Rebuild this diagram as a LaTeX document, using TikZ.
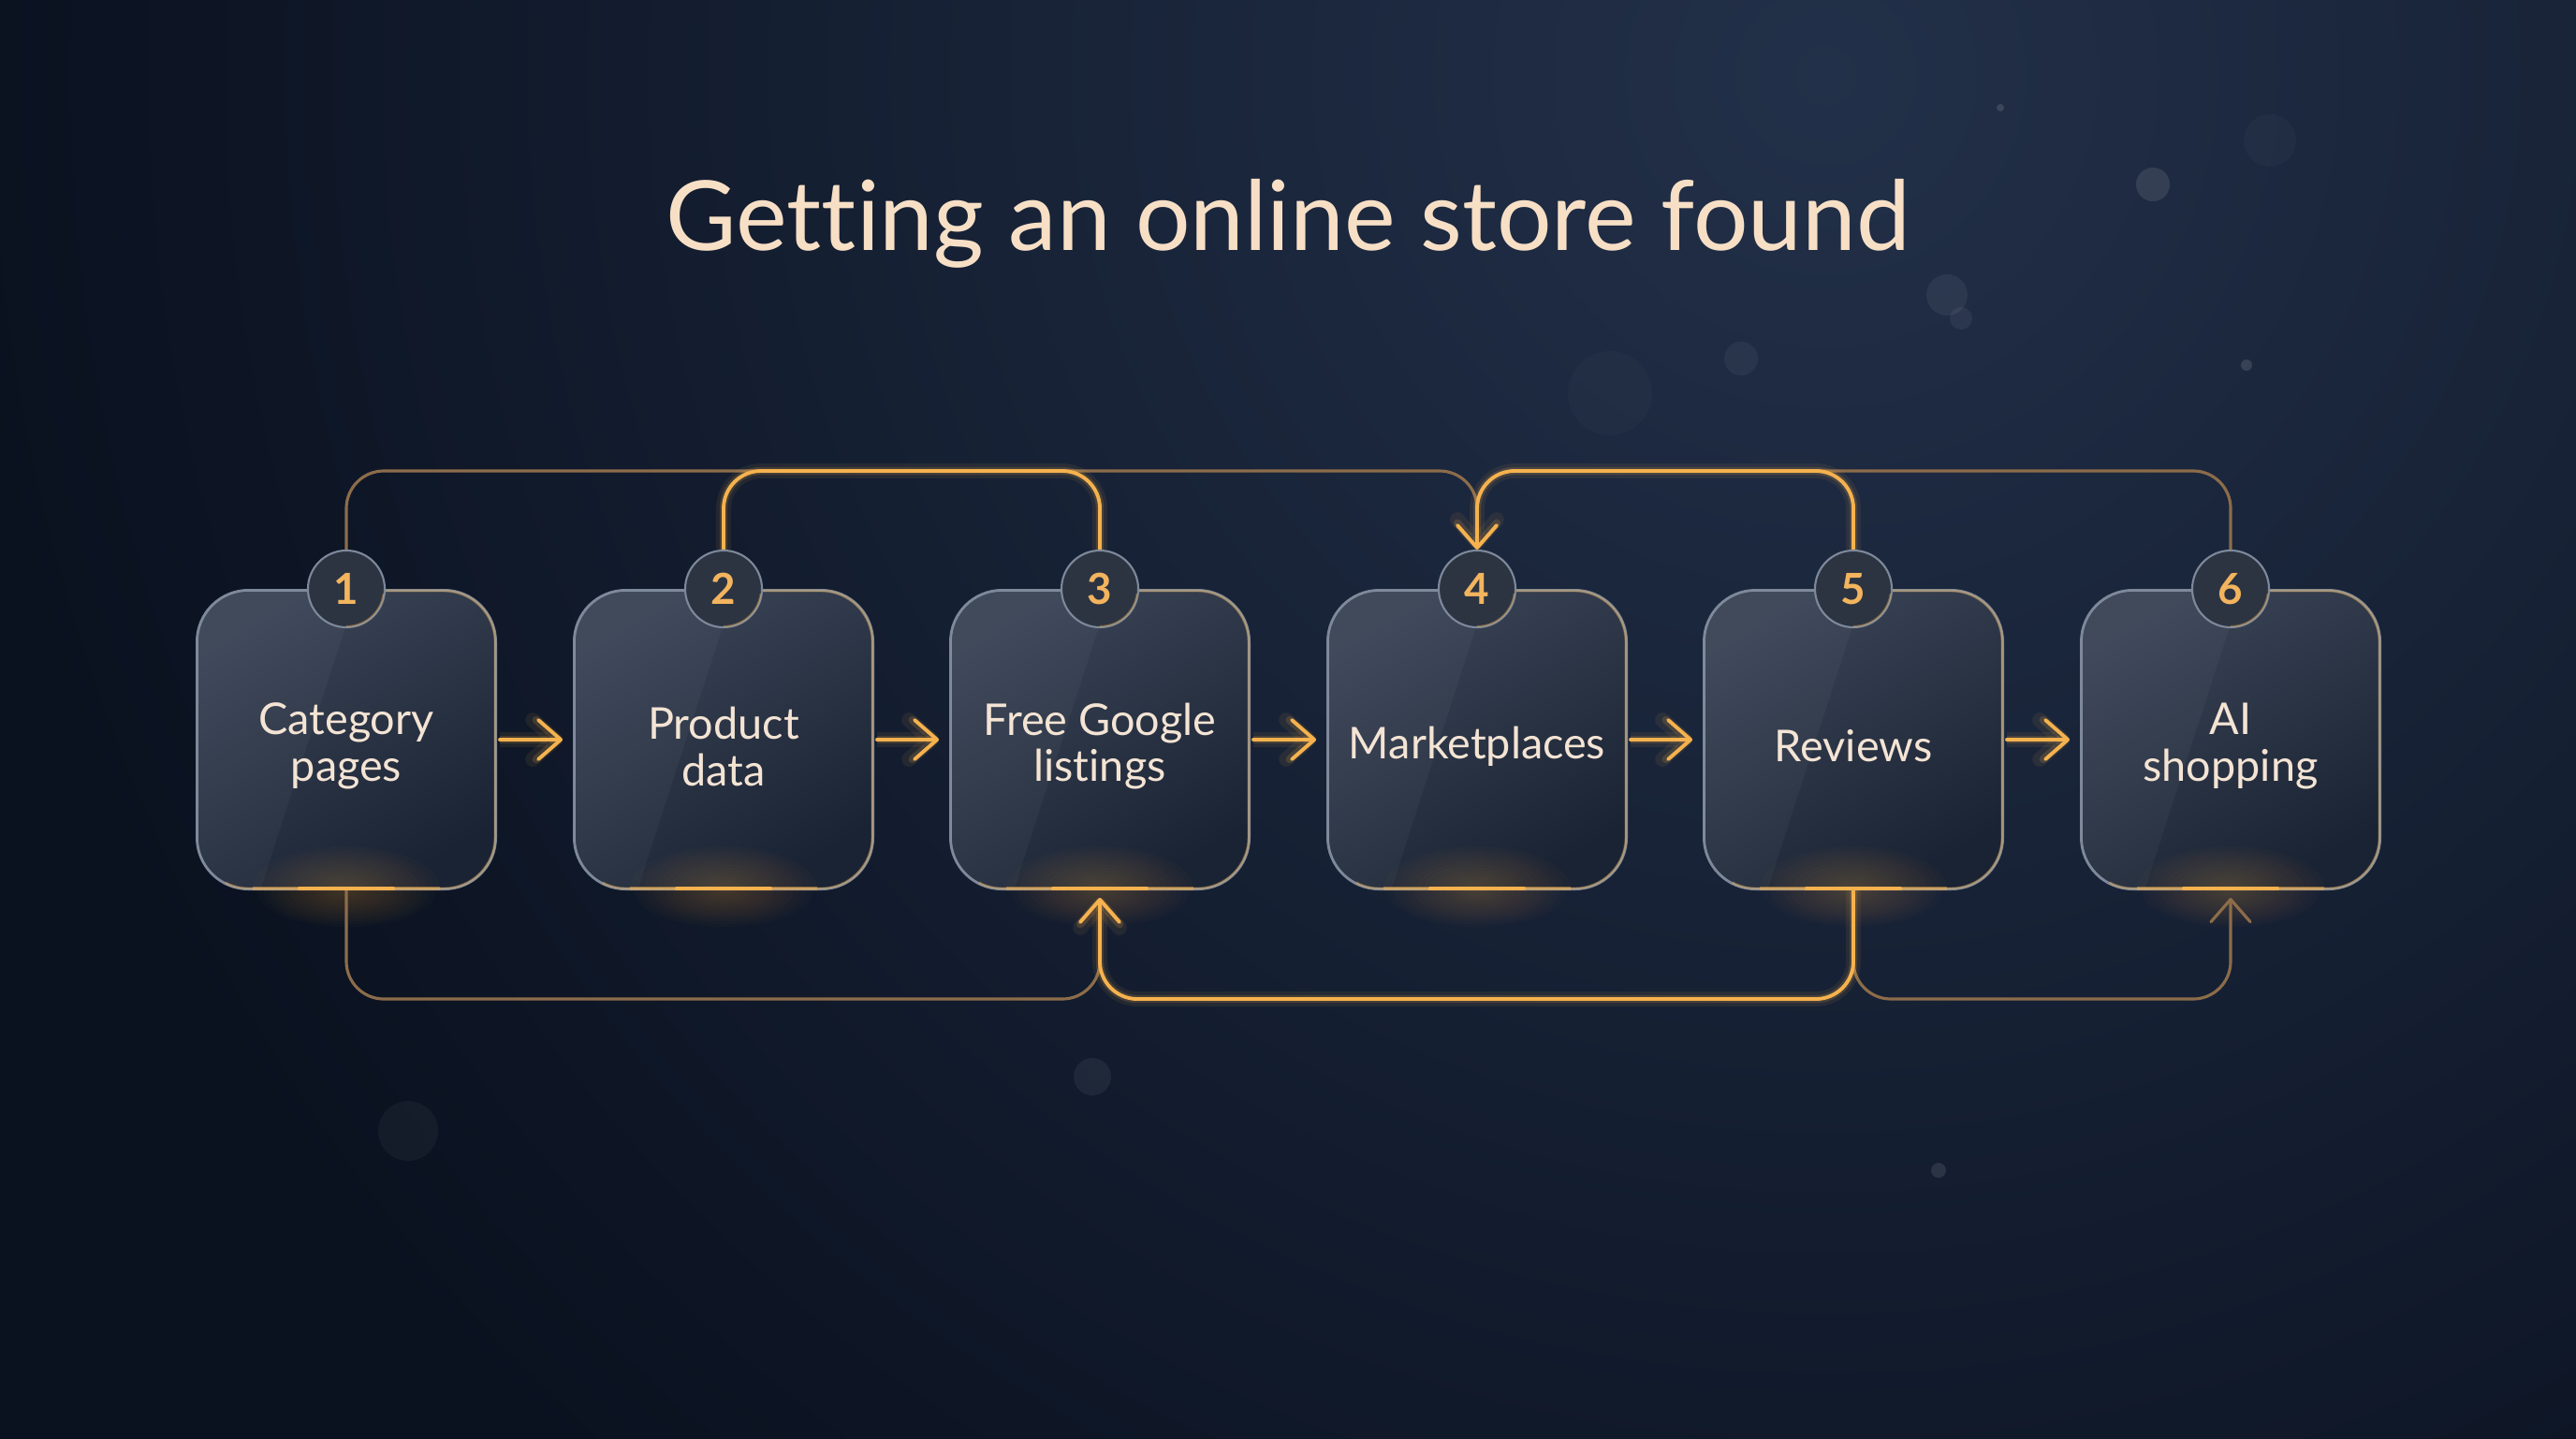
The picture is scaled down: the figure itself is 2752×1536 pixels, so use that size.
\documentclass[tikz,border=0pt]{standalone}
\usepackage{fontspec}
\setmainfont{Lato}[Ligatures=NoCommon]
\usetikzlibrary{arrows.meta,calc}
\definecolor{bgdark}{HTML}{0A111F}
\definecolor{bglight}{HTML}{223049}
\definecolor{gold}{HTML}{F5B24E}
\definecolor{dimgold}{HTML}{8C6C4A}
\definecolor{titlecol}{HTML}{F7DFC6}
\definecolor{labelcol}{HTML}{F4E4D4}
\definecolor{numcol}{HTML}{F3B45E}
\definecolor{boxtop}{HTML}{3A4456}
\definecolor{boxbot}{HTML}{1A2333}
\definecolor{boxedge}{HTML}{7D899A}
\definecolor{badgefill}{HTML}{2C3442}
\pgfdeclarelayer{bg}
\pgfdeclarelayer{lines}
\pgfsetlayers{bg,lines,main}
\tikzset{
  stepbox/.style={minimum width=3.19cm, minimum height=3.19cm, rounded corners=0.55cm,
    inner sep=0pt, top color=boxtop, bottom color=boxbot, shading angle=30,
    draw=boxedge, line width=0.8pt},
  steplabel/.style={align=center, text=labelcol, inner sep=0pt,
    font=\fontsize{13.3}{14.2}\selectfont},
  badge/.style={circle, minimum size=0.82cm, inner sep=0pt, fill=badgefill, draw=boxedge,
    line width=0.6pt, text=numcol, font=\fontsize{13}{13}\selectfont\bfseries},
  goldline/.style={draw=gold, line width=1.1pt, line cap=round, rounded corners=0.4cm,
    preaction={draw=gold, line width=4.5pt, opacity=0.08},
    preaction={draw=gold, line width=2.4pt, opacity=0.16}},
  dimline/.style={draw=dimgold, line width=0.9pt, line cap=round, rounded corners=0.4cm},
  tip/.style={-{Straight Barb[length=0.24cm, width=0.42cm, round]}},
}
\newcommand\glowspot[5]{% x y rx ry opacity
  \foreach \k in {1,...,14}{\fill[gold, opacity=#5] (#1,#2) ellipse ({#3*\k/14} and {#4*\k/14});}}
\begin{document}
\begin{tikzpicture}[x=0.01cm, y=-0.01cm]
\useasboundingbox (0,0) rectangle (2752,1536);
\begin{pgfonlayer}{bg}
  \fill[bgdark] (-20,-20) rectangle (2772,1556);
  \begin{scope}
    \clip (-20,-20) rectangle (2772,1556);
    \shade[inner color=bglight, outer color=bgdark] (1950,80) circle (2000);
  \end{scope}
  % bokeh
  \foreach \bx/\by/\br/\bo in {2300/197/18/0.10, 2080/315/22/0.06, 2095/340/12/0.06, 1860/383/18/0.05,
      1167/1150/20/0.06, 436/1208/32/0.04, 2071/1250/8/0.10, 2400/390/6/0.12, 2137/115/4/0.12,
      1720/420/45/0.02, 2425/150/28/0.025}
    {\fill[white, opacity=\bo] (\bx,\by) circle (\br);}
\end{pgfonlayer}

% title
\node[anchor=base, text=titlecol, font=\fontsize{29.4}{32}\selectfont] (title) at (1376,267)
  {Getting an online store found};

% boxes
\foreach \i/\x/\t in {1/370/{Category\\pages}, 2/773/{Product\\data}, 3/1175/{Free Google\\listings},
    4/1578/{Marketplaces}, 5/1980/{Reviews}, 6/2383/{AI\\shopping}}{
  \node[stepbox] (b\i) at (\x,790) {};
  \begin{scope}
    \clip[rounded corners=0.55cm] (\x-159,631) rectangle (\x+159,949);
    \fill[white, opacity=0.035] (\x-170,620) -- (\x+15,620) -- (\x-95,960) -- (\x-170,960) -- cycle;
    \glowspot{\x}{949}{100}{45}{0.018}
  \end{scope}
  \begin{scope}
    \clip (\x+20,600) -- (\x+200,600) -- (\x+200,990) -- (\x-150,990) -- cycle;
    \draw[gold, opacity=0.35, line width=0.8pt, rounded corners=0.55cm] (\x-159,631) rectangle (\x+159,949);
  \end{scope}
  \begin{pgfonlayer}{lines}
    \glowspot{\x}{952}{95}{38}{0.018}
  \end{pgfonlayer}
  \draw[gold, opacity=0.45, line width=1pt] (\x-100,949) -- (\x+100,949);
  \draw[gold, line width=1.2pt, line cap=round] (\x-50,949) -- (\x+50,949);
  \node[steplabel] (l\i) at (\x,797) {\t};
}
% badges
\foreach \i in {1,...,6}{
  \node[badge] (n\i) at (b\i.north) {\i};
  \begin{scope}
    \clip ($(n\i.center)+(0,5)$) rectangle ($(n\i.center)+(60,60)$);
    \draw[gold, opacity=0.35, line width=0.6pt] (n\i.center) circle (40);
  \end{scope}
}

\coordinate (top) at (0,503);
\coordinate (bot) at (0,1067);
\begin{pgfonlayer}{lines}
  % top connectors
  \draw[dimline, tip] (n1.north) |- (n4.north |- top) -- (n4.north);
  \draw[dimline, tip] (n6.north) |- (n4.north |- top) -- (n4.north);
  \draw[goldline] (n2.north) |- (n3.north |- top) -- (n3.north);
  \draw[goldline, tip] (n5.north) |- (n4.north |- top) -- (n4.north);
  % bottom connectors
  \draw[dimline, tip, shorten >=0.08cm] (b1.south) |- (b3.south |- bot) -- (b3.south);
  \draw[dimline, tip, shorten >=0.08cm] (b5.south) |- (b6.south |- bot) -- (b6.south);
  \draw[goldline, tip, shorten >=0.08cm] (b5.south) |- (b3.south |- bot) -- (b3.south);
  % horizontal arrows
  \foreach \a/\b in {1/2,2/3,3/4,4/5,5/6}
    \draw[goldline, tip, shorten <=0.03cm, shorten >=0.11cm] (b\a.east) -- (b\b.west);
\end{pgfonlayer}
\end{tikzpicture}
\end{document}
